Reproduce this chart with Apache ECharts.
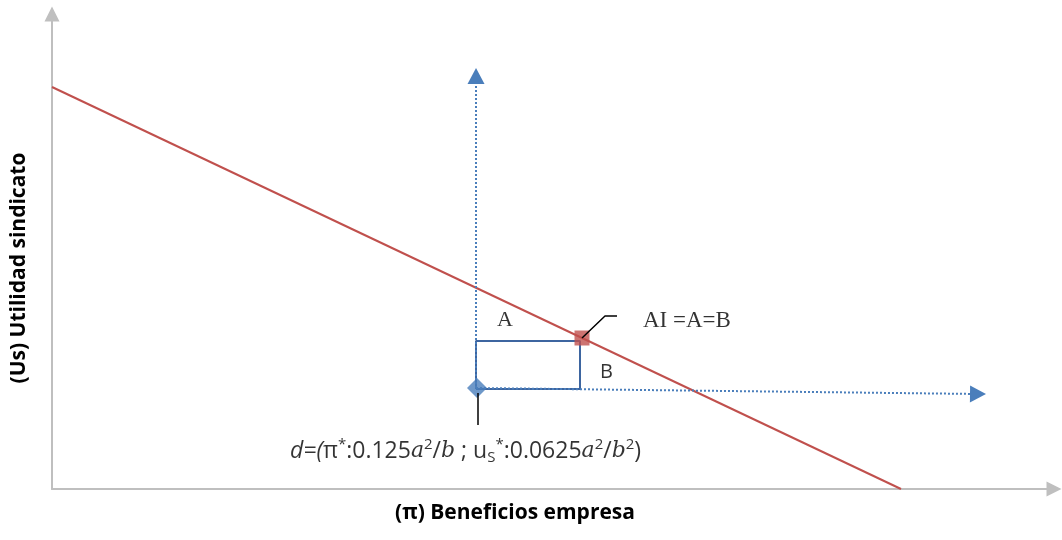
<!DOCTYPE html>
<html>
<head>
<meta charset="utf-8">
<script src="https://cdn.jsdelivr.net/npm/echarts@6/dist/echarts.min.js"></script>
<style>
  html, body { margin: 0; padding: 0; background: #fff; }
  #chart { width: 1062px; height: 540px; }
</style>
</head>
<body>
<div id="chart"></div>
<script>
  // data in axis units (origin at the axes corner)
  var redLine = [[0, 402], [849, 0]];
  var boxPoints = [[424, 100], [424, 148], [528, 148], [528, 100], [424, 100]];
  var pointD = [[425, 101]];
  var pointAI = [[530, 151]];
  var calloutAI = [[530, 151], [553, 173], [565, 173]];
  var calloutD = [[426, 96], [426, 64]];
  var arrowUp = [[424, 101], [424, 413]];
  var arrowRight = [[424, 101], [926, 95]];
  var labelA = [[445, 169]];
  var labelB = [[548, 117]];
  var labelAI = [[591, 168]];
  var labelD = [[238, 38]];

  var chart = echarts.init(document.getElementById('chart'));

  var axisStyle = {
    show: true,
    symbol: ['none', 'triangle'],
    symbolSize: [15, 15],
    lineStyle: { color: '#bfbfbf', width: 2 }
  };

  function textPoint(data, text, style) {
    return {
      type: 'scatter',
      data: data,
      symbolSize: 0,
      silent: true,
      z: 10,
      label: Object.assign({
        show: true,
        position: 'right',
        distance: 0,
        formatter: text,
        color: '#000'
      }, style)
    };
  }

  chart.setOption({
    animation: false,
    grid: { left: 52, right: 8, top: 14, bottom: 51, containLabel: false, outerBoundsMode: 'none' },
    xAxis: {
      type: 'value',
      min: 0,
      max: 1002,
      name: '(π) Beneficios empresa',
      nameLocation: 'middle',
      nameGap: 14,
      nameTextStyle: {
        fontFamily: 'Open Sans', fontWeight: 'bold', fontSize: 21, color: '#000',
        padding: [0, 76, 0, 0]
      },
      axisLine: axisStyle,
      axisTick: { show: false },
      axisLabel: { show: false },
      splitLine: { show: false }
    },
    yAxis: {
      type: 'value',
      min: 0,
      max: 475,
      name: '(Us) Utilidad sindicato',
      nameLocation: 'middle',
      nameGap: 22,
      nameTextStyle: {
        fontFamily: 'Open Sans', fontWeight: 'bold', fontSize: 21, color: '#000',
        padding: [0, 33, 0, 0]
      },
      axisLine: axisStyle,
      axisTick: { show: false },
      axisLabel: { show: false },
      splitLine: { show: false }
    },
    series: [
      {
        type: 'line',
        data: redLine,
        symbol: 'none',
        lineStyle: { color: '#c0504d', width: 2 },
        z: 3
      },
      {
        type: 'line',
        data: [],
        markLine: {
          silent: true,
          symbol: ['none', 'triangle'],
          symbolSize: [17, 16],
          label: { show: false },
          lineStyle: { color: '#4a7ebb', width: 2, type: 'dotted' },
          data: [
            [{ coord: arrowUp[0] }, { coord: arrowUp[1] }],
            [{ coord: arrowRight[0] }, { coord: arrowRight[1] }]
          ]
        }
      },
      {
        type: 'line',
        data: boxPoints,
        symbol: 'none',
        lineStyle: { color: '#3d65a0', width: 2 },
        z: 4
      },
      {
        type: 'line',
        data: calloutAI,
        symbol: 'none',
        lineStyle: { color: '#000', width: 1.5 },
        z: 6
      },
      {
        type: 'line',
        data: calloutD,
        symbol: 'none',
        lineStyle: { color: '#000', width: 1.5 },
        z: 6
      },
      {
        type: 'scatter',
        data: pointD,
        symbol: 'diamond',
        symbolSize: 20,
        itemStyle: { color: '#4a7ebb' },
        z: 5
      },
      {
        type: 'scatter',
        data: pointAI,
        symbol: 'rect',
        symbolSize: 15,
        itemStyle: { color: '#c0504d' },
        z: 5
      },
      textPoint(labelA, 'A', { fontFamily: 'Liberation Serif', fontSize: 22 }),
      textPoint(labelB, 'B', { fontFamily: 'Open Sans', fontSize: 20 }),
      textPoint(labelAI, 'AI =A=B', { fontFamily: 'Liberation Serif', fontSize: 23 }),
      textPoint(labelD,
        '{i|d=(}{n|π}{sup|*}{n|:0.125}{m|a}{sup|2}{n|/}{m|b}{n| ; u}{sub|S}{sup|*}{n|:0.0625}{m|a}{sup|2}{n|/}{m|b}{sup|2}{n|)}',
        {
          fontFamily: 'Open Sans',
          fontSize: 23,
          rich: {
            n: { fontFamily: 'Open Sans', fontSize: 23, color: '#000', lineHeight: 28 },
            i: { fontFamily: 'Open Sans', fontStyle: 'italic', fontSize: 23, color: '#000', lineHeight: 28 },
            m: { fontFamily: 'DejaVu Serif', fontStyle: 'italic', fontSize: 22, color: '#000', lineHeight: 28 },
            sup: { fontFamily: 'Open Sans', fontSize: 15, color: '#000', lineHeight: 15, verticalAlign: 'top' },
            sub: { fontFamily: 'Open Sans', fontSize: 15, color: '#000', lineHeight: 15, verticalAlign: 'bottom' }
          }
        })
    ]
  });
</script>
</body>
</html>
